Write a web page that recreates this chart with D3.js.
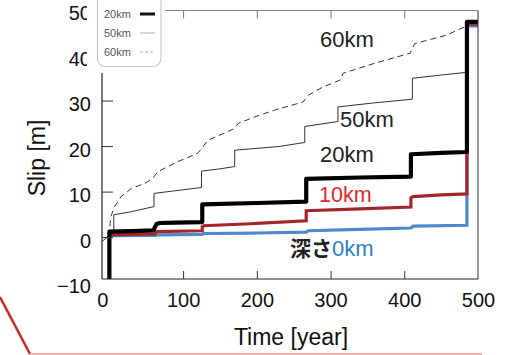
<!DOCTYPE html>
<html>
<head>
<meta charset="utf-8">
<script src="https://cdn.jsdelivr.net/npm/d3@7"></script>
<style>
  body { margin: 0; background: #fff; }
  svg { display: block; font-family: "Liberation Sans", Arial, sans-serif; }
</style>
</head>
<body>
<script>
// slip history (time [year], slip [m]) for each depth
var slip0km = [[0,0.3],[62,0.35],[64,0.5],[126,0.6],[128,0.8],[200,0.9],[267,1.1],[270,1.4],[340,1.7],[409,2.0],[412,2.4],[485,2.6],[485,46.4],[500,46.4]];
var slip10km = [[0,0.5],[62,0.7],[64,1.2],[126,1.4],[126,2.3],[128,2.5],[200,3.0],[267,3.6],[267,5.8],[340,6.2],[409,6.6],[409,8.6],[412,8.9],[450,9.3],[485,9.5],[485,46.8],[500,46.8]];
var slip20km = [[0,-12],[0,1.2],[30,1.3],[60,1.5],[62,2.3],[64,2.9],[68,3.1],[90,3.2],[126,3.3],[126,7.2],[200,7.5],[267,7.8],[267,12.8],[340,13.1],[409,13.3],[409,18.2],[450,18.5],[485,18.7],[485,47.3],[500,47.3]];
var slip50km = [[-10,-1],[0,0.5],[6,1.2],[6,4.9],[30,5.6],[60.5,6.7],[60.5,9.6],[90,10.2],[125,10.9],[125,14.5],[150,15.0],[170,15.5],[170,19.1],[230,19.9],[265,20.8],[265,24.3],[310,25.4],[310,28.6],[360,29.5],[411,30.3],[411,34.9],[450,35.6],[485,36.2],[485,47],[500,47]];
var slip60km = [[0,0.2],[1,3],[2,4.5],[7,6.7],[16,8.9],[30,10.7],[48,11.8],[59,12.9],[62,13.6],[66,14.4],[93,16.6],[120,18.4],[125,19.5],[134,21.3],[161,23.2],[170,23.9],[175,25],[197,26.4],[224,27.9],[263,29.7],[270,31.2],[290,33.0],[313,34.5],[317,36],[360,38.2],[408,40.4],[414,42.5],[458,44.4],[482,46.2],[485,47],[500,47]];

var xTicks = [0, 100, 200, 300, 400, 500];
var yTicks = [-10, 0, 10, 20, 30, 40, 50];
var legendLabels = ["20km", "50km", "60km"];

var w = 513, h = 355;
var pLeft = 102, pRight = 478, pTop = 10.5, pBottom = 279;

var svg = d3.select("body").append("svg")
    .attr("width", w).attr("height", h);

var x = d3.scaleLinear().domain([-10, 500]).range([pLeft, pRight]);
var y = d3.scaleLinear().domain([-9.2, 50]).range([pBottom, 9.5]);

svg.append("clipPath").attr("id", "plot")
  .append("rect")
    .attr("x", pLeft).attr("y", pTop)
    .attr("width", pRight - pLeft).attr("height", pBottom - pTop);

var line = d3.line()
    .x(function(d){ return x(d[0]); })
    .y(function(d){ return y(d[1]); });

var lines = svg.append("g").attr("clip-path", "url(#plot)");

lines.append("path").datum(slip60km)
    .attr("d", line).attr("fill", "none")
    .attr("stroke", "#333").attr("stroke-width", 1)
    .attr("stroke-dasharray", "6,4");

lines.append("path").datum(slip50km)
    .attr("d", line).attr("fill", "none")
    .attr("stroke", "#333").attr("stroke-width", 1);

lines.append("path").datum(slip0km)
    .attr("d", line).attr("fill", "none")
    .attr("stroke", "#4f88cc").attr("stroke-width", 3.2);

lines.append("path").datum(slip10km)
    .attr("d", line).attr("fill", "none")
    .attr("stroke", "#a3262b").attr("stroke-width", 3.2);

lines.append("path").datum(slip20km)
    .attr("d", line).attr("fill", "none")
    .attr("stroke", "#000").attr("stroke-width", 4.2)
    .attr("stroke-linejoin", "round");

// frame
svg.append("line").attr("x1", pLeft).attr("x2", pRight).attr("y1", pTop).attr("y2", pTop)
    .attr("stroke", "#888").attr("stroke-width", 1.2);
svg.append("line").attr("x1", pRight).attr("x2", pRight).attr("y1", pTop).attr("y2", pBottom)
    .attr("stroke", "#333").attr("stroke-width", 1);
svg.append("line").attr("x1", pLeft).attr("x2", pRight).attr("y1", pBottom).attr("y2", pBottom)
    .attr("stroke", "#222").attr("stroke-width", 1.2);
svg.append("line").attr("x1", pLeft).attr("x2", pLeft).attr("y1", pTop).attr("y2", pBottom)
    .attr("stroke", "#222").attr("stroke-width", 1.2);

// axes
var xAxis = svg.append("g")
    .attr("transform", "translate(0," + pBottom + ")")
    .call(d3.axisBottom(x).tickValues(xTicks).tickSizeInner(-8).tickSizeOuter(0).tickPadding(14));
var xTop = svg.append("g")
    .attr("transform", "translate(0," + pTop + ")")
    .call(d3.axisTop(x).tickValues([100, 200, 300, 400]).tickSizeInner(-8).tickSizeOuter(0).tickFormat(""));
var yAxis = svg.append("g")
    .attr("transform", "translate(" + pLeft + ",0)")
    .call(d3.axisLeft(y).tickValues(yTicks).tickSizeInner(-11).tickSizeOuter(0).tickPadding(11));

[xAxis, xTop, yAxis].forEach(function(g){
  g.select(".domain").remove();
  g.selectAll(".tick line").attr("stroke", "#333");
  g.selectAll("text").attr("font-size", 20).attr("fill", "#111")
    .attr("font-family", "'Liberation Sans', Arial, sans-serif");
});
xTop.selectAll(".tick line").attr("stroke", "#777");
xAxis.selectAll(".tick").filter(function(d){ return d === 0 || d === 500; })
    .select("line").remove();
xAxis.selectAll(".tick").filter(function(d){ return d === 0; })
    .select("text").attr("dx", -7);
yAxis.selectAll(".tick").filter(function(d){ return d === -10; })
    .select("line").remove();
yAxis.selectAll("text").attr("dy", "0.5em");

// axis titles
svg.append("text")
    .attr("transform", "translate(45,158) rotate(-90)")
    .attr("text-anchor", "middle")
    .attr("font-size", 23).attr("fill", "#111")
    .text("Slip [m]");
svg.append("text")
    .attr("x", 291).attr("y", 345)
    .attr("text-anchor", "middle")
    .attr("font-size", 23).attr("fill", "#111")
    .text("Time [year]");

// series labels
svg.append("text").attr("x", 320).attr("y", 46.5)
    .attr("font-size", 22).attr("fill", "#222").text("60km");
svg.append("text").attr("x", 340).attr("y", 126.5)
    .attr("font-size", 22).attr("fill", "#222").text("50km");
svg.append("text").attr("x", 320).attr("y", 161.5)
    .attr("font-size", 22).attr("fill", "#222").text("20km");
svg.append("text").attr("x", 319).attr("y", 202)
    .attr("font-size", 21.5).attr("fill", "#e3262d").text("10km");
var depth = svg.append("text").attr("x", 290).attr("y", 256).attr("font-size", 22);
depth.append("tspan")
    .attr("font-family", "'Noto Sans CJK JP', sans-serif")
    .attr("font-weight", "bold").attr("font-size", 21)
    .attr("fill", "#222").text("深さ");
depth.append("tspan").attr("fill", "#2b7ec9").text("0km");

// legend (covers the upper left corner)
svg.append("rect")
    .attr("x", 87).attr("y", 0).attr("width", 78).attr("height", 73)
    .attr("fill", "#fff");
svg.append("rect")
    .attr("x", 97.5).attr("y", -12).attr("width", 63.5).attr("height", 78.5)
    .attr("rx", 8).attr("fill", "#fff")
    .attr("stroke", "#c8c8c8").attr("stroke-width", 1.2);

var legendStyle = [
  {w: 3, dash: null, c: "#111"},
  {w: 0.8, dash: null, c: "#999"},
  {w: 0.8, dash: "3,2", c: "#999"}
];
var legend = svg.selectAll(".leg").data(legendLabels).enter()
  .append("g").attr("class", "leg")
  .attr("transform", function(d, i){ return "translate(0," + (14 + i * 19) + ")"; });
legend.append("text")
    .attr("x", 104).attr("y", 4)
    .attr("font-size", 11).attr("fill", "#555")
    .text(function(d){ return d; });
legend.append("line")
    .attr("x1", 140).attr("x2", 155).attr("y1", 0).attr("y2", 0)
    .attr("stroke", function(d, i){ return legendStyle[i].c; })
    .attr("stroke-width", function(d, i){ return legendStyle[i].w; })
    .attr("stroke-dasharray", function(d, i){ return legendStyle[i].dash; });

// slide decoration lines at the bottom
svg.append("line").attr("x1", 0).attr("y1", 297).attr("x2", 30).attr("y2", 354)
    .attr("stroke", "#c8282e").attr("stroke-width", 2.5);
svg.append("line").attr("x1", 30).attr("y1", 354).attr("x2", 482).attr("y2", 354)
    .attr("stroke", "#e89a9a").attr("stroke-width", 1.5);
</script>
</body>
</html>
